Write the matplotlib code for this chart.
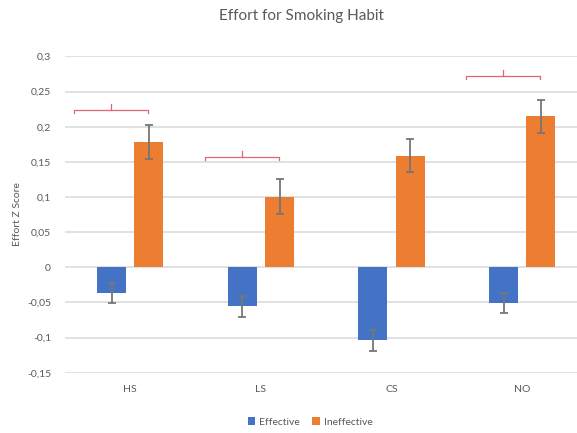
import matplotlib
matplotlib.use("Agg")
import matplotlib.pyplot as plt
from matplotlib.ticker import FuncFormatter
import numpy as np

plt.rcParams['font.family'] = ['Lato', 'DejaVu Sans']

categories = ["HS", "LS", "CS", "NO"]
effective = [-0.0367, -0.0557, -0.104, -0.0505]
effective_err = [0.0147, 0.015, 0.015, 0.0145]
ineffective = [0.178, 0.1004, 0.159, 0.2147]
ineffective_err = [0.024, 0.025, 0.023, 0.024]

# significance brackets: (category index, bracket height)
brackets = [(0, 0.2237), (1, 0.157), (3, 0.272)]

blue = "#4472C4"
orange = "#ED7D31"
grid_c = "#D9D9D9"
text_c = "#595959"
err_c = "#767676"
bracket_c = "#E0676B"

fig = plt.figure(figsize=(5.77, 4.33), dpi=100)
ax = fig.add_axes([65 / 577, 1 - 372.8 / 433, 522.5 / 577, (372.8 - 56.4) / 433])

x = np.arange(len(categories))
w = 0.222
off = 0.143
ax.bar(x - off, effective, w, color=blue, zorder=3, label="Effective")
ax.bar(x + off, ineffective, w, color=orange, zorder=3, label="Ineffective")
ax.errorbar(x - off, effective, yerr=effective_err, fmt='none', ecolor=err_c,
            elinewidth=1.3, capsize=2.8, capthick=1.3, zorder=4)
ax.errorbar(x + off, ineffective, yerr=ineffective_err, fmt='none', ecolor=err_c,
            elinewidth=1.3, capsize=2.8, capthick=1.3, zorder=4)

for i, h in brackets:
    x0, x1 = i - 0.43, i + 0.135
    xm = (x0 + x1) / 2
    ax.plot([x0, x0, x1, x1], [h - 0.004, h, h, h - 0.004], color=bracket_c, lw=0.9, zorder=5)
    ax.plot([xm, xm], [h, h + 0.009], color=bracket_c, lw=0.9, zorder=5)

ax.set_xlim(-0.5, len(categories) - 0.5)
ax.set_ylim(-0.15, 0.3)
ax.set_yticks(np.arange(-0.15, 0.3001, 0.05))
ax.yaxis.set_major_formatter(FuncFormatter(lambda v, p: ("%g" % round(v, 2)).replace(".", ",")))
ax.set_xticks(x)
ax.set_xticklabels(categories)
ax.grid(axis='y', color=grid_c, lw=1.1, zorder=0)
ax.set_axisbelow(True)
for s in ax.spines.values():
    s.set_visible(False)
ax.tick_params(axis='both', length=0, colors=text_c, labelsize=7.5)
ax.tick_params(axis='y', pad=10)
ax.tick_params(axis='x', pad=9)

fig.text(18 / 577, 1 - 214 / 433, "Effort Z Score", rotation=90, ha='center', va='center',
         color=text_c, fontsize=7.5)
fig.text(301 / 577, 1 - 16 / 433, "Effort for Smoking Habit", ha='center', va='center',
         color=text_c, fontsize=11)

fig.legend(loc='center', bbox_to_anchor=(310 / 577, 1 - 422 / 433), ncol=2, frameon=False,
           fontsize=7.5, labelcolor=text_c, handlelength=0.7, handleheight=0.7,
           handletextpad=0.4, columnspacing=1.2)

fig.savefig("out.png", dpi=100)
